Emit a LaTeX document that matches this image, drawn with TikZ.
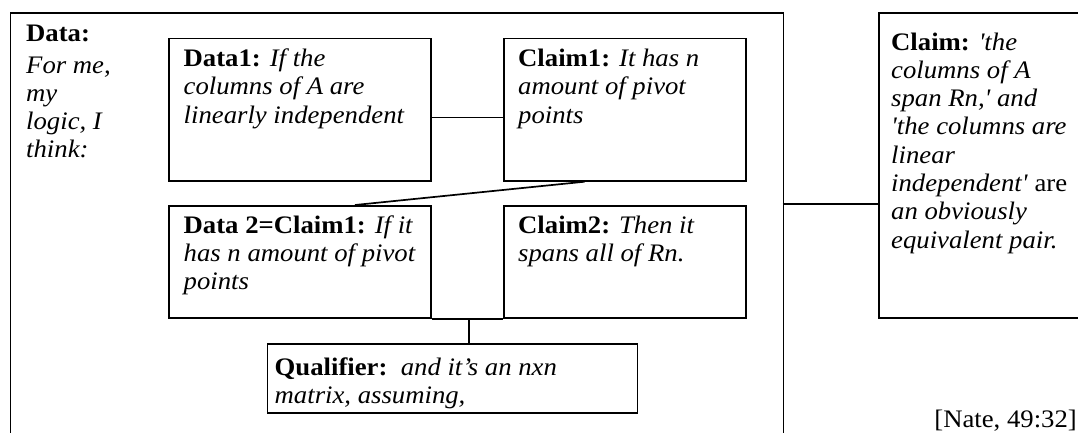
\documentclass[tikz,border=0pt]{standalone}
\usepackage{fontspec}
\setmainfont{Liberation Serif}[Ligatures=TeXOff, FakeStretch=1.06]
\newcommand{\tb}[2]{\parbox[t]{#1}{\raggedright #2}}
\begin{document}
\begin{tikzpicture}[x=1pt,y=-1pt,
  box/.style={draw, line width=1.7pt, inner sep=0pt, anchor=north west},
  txt/.style={anchor=base west, inner sep=0pt, font=\fontsize{25.2}{28.3}\selectfont},
  link/.style={line width=1.7pt}]
\useasboundingbox (0,0) rectangle (1078,432);
\begin{scope}
\clip (0,0) rectangle (1078,432);
% boxes
\node[box, minimum width=773, minimum height=460] (outer) at (9.5,12) {};
\node[box, minimum width=262, minimum height=142.5] (d1) at (168,37.5) {};
\node[box, minimum width=242, minimum height=142.5] (c1) at (503,37.5) {};
\node[box, minimum width=262, minimum height=112] (d2) at (168,205) {};
\node[box, minimum width=242, minimum height=112] (c2) at (503,205) {};
\node[box, minimum width=370, minimum height=68.5] (q) at (266.5,343.3) {};
\node[box, minimum width=300, minimum height=305] (claim) at (878,12) {};
% texts
\node[txt] (tdata) at (26,41.7) {\tb{120pt}{\textbf{Data:}\\[3pt] \textit{For me,}\\ \textit{my}\\ \textit{logic, I}\\ \textit{think:}}};
\node[txt] (td1) at (183.5,66.5) {\tb{250pt}{\textbf{Data1:} \textit{If the}\\ \textit{columns of A are}\\ \textit{linearly independent}}};
\node[txt] (tc1) at (518,66.5) {\tb{230pt}{\textbf{Claim1:} \textit{It has n}\\ \textit{amount of pivot}\\ \textit{points}}};
\node[txt] (td2) at (183.5,233) {\tb{250pt}{\textbf{Data 2=Claim1:} \textit{If it}\\ \textit{has n amount of pivot}\\ \textit{points}}};
\node[txt] (tc2) at (518,233) {\tb{230pt}{\textbf{Claim2:} \textit{Then it}\\ \textit{spans all of Rn.}}};
\node[txt] (tq) at (274.5,375) {\tb{360pt}{\textbf{Qualifier:}\ \ \textit{and it’s an nxn}\\ \textit{matrix, assuming,}}};
\node[txt] (tclaim) at (891,50) {\tb{240pt}{\textbf{Claim:} \textit{'the}\\ \textit{columns of A}\\ \textit{span Rn,' and}\\ \textit{'the columns are}\\ \textit{linear}\\ \textit{independent'} are\\ \textit{an obviously}\\ \textit{equivalent pair.}}};
\node[anchor=base east, inner sep=0pt, font=\fontsize{25.2}{28.3}\selectfont] (nate) at (1077,427) {[Nate, 49:32]};
% connectors
\coordinate (dc) at (0,117.5);
\draw[link] (d1.east |- dc) -- (c1.west |- dc);
\draw[link] ([xshift=81.5pt]c1.south west) -- ([xshift=187pt]d2.north west);
\draw[link] (d2.south east) -- (c2.south west);
\coordinate (qa) at ([xshift=37.5pt]d2.south east);
\draw[link] (qa) -- (qa |- q.north);
\coordinate (oe) at (782.5,204);
\draw[link] (oe) -- (oe -| claim.west);
\end{scope}
\end{tikzpicture}
\end{document}
